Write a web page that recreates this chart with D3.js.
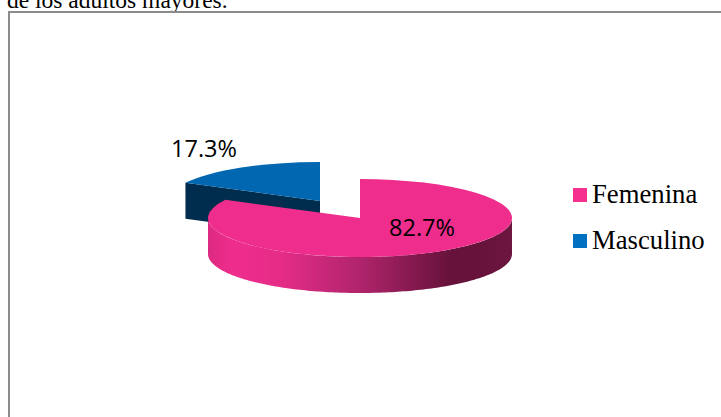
<!DOCTYPE html>
<html><head><meta charset="utf-8">
<script src="https://cdn.jsdelivr.net/npm/d3@7"></script>
<style>html,body{margin:0;padding:0;background:#fff;overflow:hidden}svg{display:block}</style>
</head><body><div id="c"></div>
<script>
const categories = ["Femenina", "Masculino"];
const values = [82.7, 17.3];
const valueLabels = ["82.7%", "17.3%"];
const topColors = ["#EF2D8C", "#0067B0"];
const wallColors = ["#EF2D8C", "#002D4D"];
const legendColors = ["#F5308F", "#0070C0"];
const captionText = "de los adultos mayores.";

const W = 721, H = 417;
const svg = d3.select("#c").append("svg").attr("width", W).attr("height", H);
const rx = 152, ry = 39, depth = 36;
const centres = [[360, 218], [320, 201]];
const labelPos = [[422, 236], [204, 157]];

const defs = svg.append("defs");
const grad = defs.append("linearGradient").attr("id", "wall").attr("gradientUnits", "userSpaceOnUse")
  .attr("x1", 208).attr("x2", 512).attr("y1", 0).attr("y2", 0);
[[0, "#DC2A82"], [0.08, "#EF2D8C"], [0.24, "#E52C87"], [0.5, "#B0246C"], [0.8, "#66123A"], [0.88, "#66123A"], [1, "#6C1640"]]
  .forEach(([o, c]) => grad.append("stop").attr("offset", o).attr("stop-color", c));

svg.append("text").attr("x", 7).attr("y", 8).attr("font-family", "Liberation Serif").attr("font-size", 23.5)
  .attr("fill", "#000").text(captionText);
svg.append("rect").attr("x", 9).attr("y", 12).attr("width", 730).attr("height", 430)
  .attr("fill", "#fff").attr("stroke", "#8C8C8C").attr("stroke-width", 2);

const arcs = d3.pie().sort(null)(values);
const px = (a, c) => c[0] + rx * Math.sin(a);
const py = (a, c) => c[1] - ry * Math.cos(a);
const arcGen = d3.arc().innerRadius(0).outerRadius(rx);

function topFace(i) {
  svg.append("path").attr("d", arcGen(arcs[i]))
    .attr("transform", `translate(${centres[i]}) scale(1,${ry / rx})`)
    .attr("fill", topColors[i]);
}
const b = arcs[1], cb = centres[1];
svg.append("path").attr("d", d3.line()([
  [px(b.startAngle, cb), py(b.startAngle, cb)], cb,
  [cb[0], cb[1] + depth],
  [px(b.startAngle, cb), py(b.startAngle, cb) + depth]
]) + "Z").attr("fill", wallColors[1]);
topFace(1);

const ca = centres[0];
const wallAngles = d3.range(Math.PI / 2, 3 * Math.PI / 2 + 0.001, 0.02);
const outer = wallAngles.map(t => [px(t, ca), py(t, ca)]);
const lower = wallAngles.slice().reverse().map(t => [px(t, ca), py(t, ca) + depth]);
svg.append("path").attr("d", d3.line()(outer.concat(lower)) + "Z").attr("fill", "url(#wall)");
topFace(0);

valueLabels.forEach((t, i) => svg.append("text").attr("x", labelPos[i][0]).attr("y", labelPos[i][1])
  .attr("text-anchor", "middle").attr("font-family", "Open Sans").attr("font-size", 23.5).attr("fill", "#000").text(t));

const legend = d3.scaleBand().domain(categories).range([172, 264]);
categories.forEach((c, i) => {
  const y = legend(c) + legend.bandwidth() / 2;
  svg.append("rect").attr("x", 573).attr("y", y - 7).attr("width", 14).attr("height", 14).attr("fill", legendColors[i]);
  svg.append("text").attr("x", 592).attr("y", y + 8).attr("font-family", "Liberation Serif").attr("font-size", 26.7).attr("fill", "#000").text(c);
});
</script></body></html>
